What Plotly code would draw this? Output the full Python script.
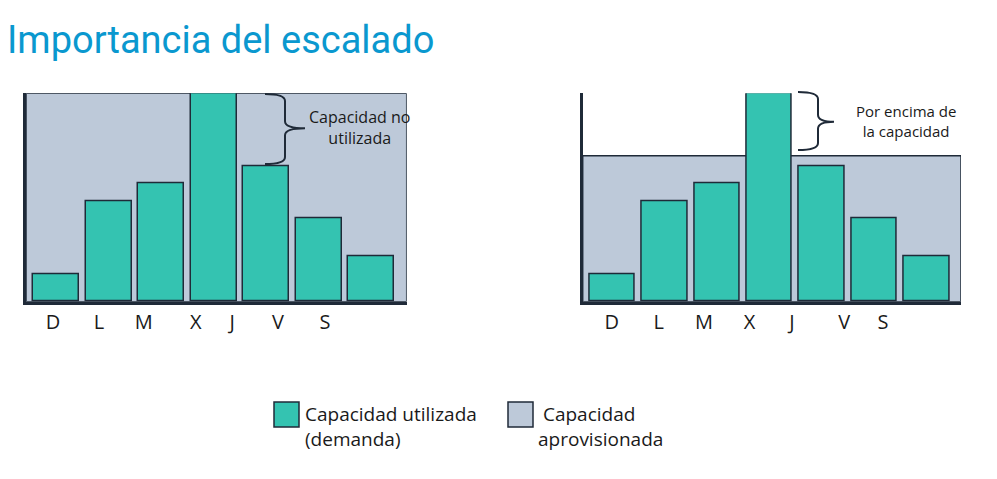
import numpy as np
import plotly.graph_objects as go

# ---------------- data ----------------
days = ["D", "L", "M", "X", "J", "V", "S"]
demand = [13, 48, 57, 100, 65, 40, 22]          # capacidad utilizada (demanda)
provisioned = [100, 70]                          # capacidad aprovisionada (izq, der)
title_text = "Importancia del escalado"
note_left = ["Capacidad no", "utilizada"]
note_right = ["Por encima de", "la capacidad"]
legend_labels = [["Capacidad utilizada", "(demanda)"], ["Capacidad", "aprovisionada"]]

# ---------------- layout constants ----------------
W, H = 997, 479
TEAL = "#34c3b1"
GREY = "#bdc9d9"
DARK = "#1f2a38"
TITLE_BLUE = "#0a98cf"
TXT = "#1a1a1a"
FONT = "Open Sans, Noto Sans, sans-serif"

# tick label positions (in bar-index units) as laid out in the original slide
label_pos_left = [-0.06, 0.815, 1.67, 2.66, 3.35, 4.225, 5.12]
label_pos_right = [-0.01, 0.89, 1.75, 2.62, 3.43, 4.43, 5.17]

def px(x):
    return x / W

def py(y):
    return 1 - y / H

y_dom = [py(301.7), py(93.3)]
x_dom_left = [px(26), px(406.7)]
x_dom_right = [px(582.7), px(961)]
x_rng_left = [-0.575, 6.676]
x_rng_right = [-0.563, 6.657]

xs = np.arange(len(days))

fig = go.Figure()
for i, ax in enumerate(["", "2"]):
    fig.add_trace(go.Bar(
        x=xs, y=demand, width=0.87,
        marker=dict(color=TEAL, line=dict(color=DARK, width=1.5)),
        xaxis="x" + ax, yaxis="y" + ax, showlegend=False, hoverinfo="skip",
    ))

shapes = []
# provisioned capacity rectangles
for i, (ax, rng) in enumerate([("", x_rng_left), ("2", x_rng_right)]):
    shapes.append(dict(
        type="rect", xref="x" + ax, yref="y" + ax,
        x0=rng[0], x1=rng[1], y0=0, y1=provisioned[i],
        fillcolor=GREY, line=dict(color=DARK, width=1.5), layer="below",
    ))

def brace(xl, xm, xt, yt, ym, yb, r=7):
    pts = lambda x, y: f"{px(x)},{py(y)}"
    return (f"M {pts(xl, yt)} Q {pts(xm, yt)} {pts(xm, yt + r)} "
            f"L {pts(xm, ym - r)} Q {pts(xm, ym)} {pts(xt, ym)} "
            f"Q {pts(xm, ym)} {pts(xm, ym + r)} "
            f"L {pts(xm, yb - r)} Q {pts(xm, yb)} {pts(xl, yb)}")

shapes.append(dict(type="path", xref="paper", yref="paper",
                   path=brace(265, 285, 305, 94, 128.3, 164),
                   line=dict(color=DARK, width=2)))
shapes.append(dict(type="path", xref="paper", yref="paper",
                   path=brace(798, 818, 834, 92, 121.7, 150),
                   line=dict(color=DARK, width=2)))

# legend squares
for x0, col in [(274, TEAL), (508, GREY)]:
    shapes.append(dict(type="rect", xref="paper", yref="paper",
                       x0=px(x0), x1=px(x0 + 25), y0=py(427), y1=py(402),
                       fillcolor=col, line=dict(color=DARK, width=1.5)))

annotations = []
annotations.append(dict(text=title_text, xref="paper", yref="paper",
                        x=px(5), y=py(40), xanchor="left", yanchor="middle",
                        showarrow=False,
                        font=dict(family="Roboto, Liberation Sans, sans-serif",
                                  size=38, color=TITLE_BLUE)))

annotations.append(dict(text="<br>".join(note_left), xref="paper", yref="paper",
                        x=px(359), y=py(127.8), xanchor="center", yanchor="middle",
                        showarrow=False, font=dict(family=FONT, size=16, color=TXT)))
annotations.append(dict(text="<br>".join(note_right), xref="paper", yref="paper",
                        x=px(906), y=py(121), xanchor="center", yanchor="middle",
                        showarrow=False, font=dict(family=FONT, size=15, color=TXT)))

annotations.append(dict(text="<br>".join(legend_labels[0]), xref="paper", yref="paper",
                        x=px(303), y=py(426), xanchor="left", yanchor="middle", align="left",
                        showarrow=False, font=dict(family=FONT, size=19, color=TXT)))
annotations.append(dict(text="\u00a0" + "<br>".join(legend_labels[1]), xref="paper", yref="paper",
                        x=px(536), y=py(426), xanchor="left", yanchor="middle", align="left",
                        showarrow=False, font=dict(family=FONT, size=19, color=TXT)))

axis_common_x = dict(showgrid=False, zeroline=False, showline=True, linecolor=DARK, linewidth=3,
                     ticks="", tickfont=dict(family=FONT, size=20, color=TXT), fixedrange=True)
axis_common_y = dict(showgrid=False, zeroline=False, showline=True, linecolor=DARK, linewidth=3,
                     showticklabels=False, ticks="", range=[0, 100], domain=y_dom, fixedrange=True)

fig.update_layout(
    width=W, height=H, margin=dict(l=0, r=0, t=0, b=0),
    paper_bgcolor="white", plot_bgcolor="rgba(0,0,0,0)",
    showlegend=False, bargap=0,
    xaxis=dict(axis_common_x, domain=x_dom_left, range=x_rng_left, anchor="y",
               tickmode="array", tickvals=label_pos_left, ticktext=days),
    yaxis=dict(axis_common_y, anchor="x"),
    xaxis2=dict(axis_common_x, domain=x_dom_right, range=x_rng_right, anchor="y2",
                tickmode="array", tickvals=label_pos_right, ticktext=days),
    yaxis2=dict(axis_common_y, anchor="x2"),
    shapes=shapes, annotations=annotations,
)

fig.write_html("out.html")
